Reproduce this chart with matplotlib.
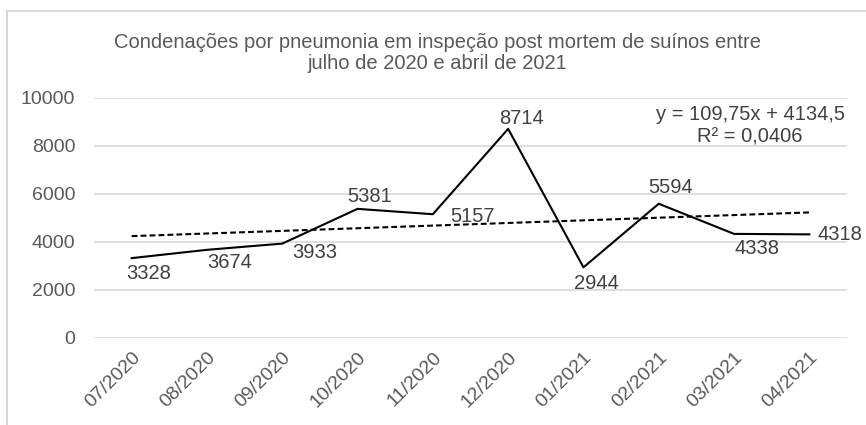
import matplotlib
matplotlib.use("Agg")
import matplotlib.pyplot as plt
from matplotlib.patches import Rectangle
import numpy as np

# Data
months = ["07/2020", "08/2020", "09/2020", "10/2020", "11/2020",
          "12/2020", "01/2021", "02/2021", "03/2021", "04/2021"]
condemnations = [3328, 3674, 3933, 5381, 5157, 8714, 2944, 5594, 4338, 4318]
trend_slope = 109.75
trend_intercept = 4134.5
trend_r2 = 0.0406

title = ("Condenações por pneumonia em inspeção post mortem de suínos entre\n"
         "julho de 2020 e abril de 2021")
equation = "y = 109,75x + 4134,5\nR² = 0,0406"

# label offsets in pixels (dx, dy) relative to each point
label_offsets = [(17, -15), (23, -13), (32, -9), (12, 12), (40, -2),
                 (13, 10), (13, -16), (12, 16), (23, -15), (8, 0)]

plt.rcParams['font.family'] = ['Liberation Sans', 'DejaVu Sans']

W, H = 866, 425
fig = plt.figure(figsize=(W / 100, H / 100), dpi=100)

# chart border
fig.patches.append(Rectangle((7 / W, -0.1), 1.1, (H - 11) / H + 0.1,
                             transform=fig.transFigure, fill=False,
                             edgecolor='#d9d9d9', linewidth=1.5))

ax = fig.add_axes([94 / W, (H - 338) / H, 753 / W, 240 / H])

x = np.arange(len(months))
ax.plot(x, condemnations, color='black', linewidth=1.5, zorder=3)

trend = trend_intercept + trend_slope * (x + 1)
ax.plot(x, trend, color='black', linewidth=1.5, linestyle=(0, (2.8, 1.5)), zorder=2)

for i, v in enumerate(condemnations):
    dx, dy = label_offsets[i]
    ha = 'left' if i == len(condemnations) - 1 else 'center'
    ax.annotate(str(v), (x[i], v), xytext=(dx, dy), textcoords='offset pixels',
                ha=ha, va='center', fontsize=14.5, color='#404040', zorder=4)

ax.set_xlim(-0.5, len(months) - 0.5)
ax.set_ylim(0, 10000)
ax.set_yticks(np.arange(0, 10001, 2000))
ax.set_xticks(x)
ax.set_xticklabels(months, rotation=45, ha='right', rotation_mode='anchor')
ax.tick_params(axis='both', length=0, labelsize=14, labelcolor='#595959')
ax.tick_params(axis='y', pad=13.5)
ax.tick_params(axis='x', pad=8)

ax.grid(axis='y', color='#d9d9d9', linewidth=1.2)
ax.set_axisbelow(True)
for s in ax.spines.values():
    s.set_visible(False)

fig.text(750 / W, 1 - 126 / H, equation, ha='center', va='center', fontsize=14.5,
         color='#404040', linespacing=1.25)

fig.text(437 / W, 1 - 53 / H, title, ha='center', va='center', fontsize=14.5,
         color='#595959', linespacing=1.1)

fig.savefig("out.png", dpi=100)
